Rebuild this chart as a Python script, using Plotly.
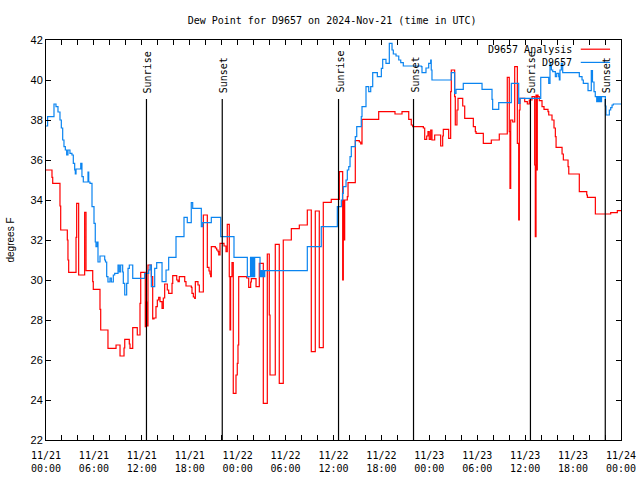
import pandas as pd
import plotly.graph_objects as go

START = "2024-11-21 00:00"

# Observed dew point (D9657): hours since start, value (step plot)
obs_hours = [0.0, 0.2, 1.0, 1.25, 1.5, 1.75, 1.92, 2.09, 2.25, 2.42, 2.59, 2.75, 3.0, 3.25, 3.42, 3.59,
             3.67, 3.76, 4.35, 4.5, 4.67, 5.26, 5.35, 5.51, 5.76, 6.01, 6.17, 6.26, 6.42, 6.51, 6.76,
             7.35, 7.45, 7.6, 7.76, 8.01, 8.18, 8.43, 8.6, 9.02, 9.18, 9.35, 9.6, 9.68, 9.86, 10.1,
             10.27, 10.43, 10.86, 12.36, 12.86, 13.02, 13.19, 13.61, 13.86, 14.53, 15.03, 15.36,
             16.28, 17.28, 17.69, 18.19, 18.37, 19.45, 19.62, 20.7, 21.88, 23.54, 25.21, 25.61,
             25.73, 25.86, 25.98, 26.13, 26.8, 26.92, 27.05, 27.17, 27.3, 27.39, 32.72, 34.47,
             36.48, 36.98, 37.13, 37.23, 37.57, 37.73, 37.91, 38.07, 38.23, 38.73, 38.91, 39.48,
             39.57, 40.07, 40.41, 40.66, 40.91, 41.49, 41.99, 42.16, 42.57, 42.99, 43.33, 43.49,
             43.83, 44.17, 44.42, 44.74, 46.99, 47.08, 47.58, 47.92, 48.17, 48.24, 48.33, 50.75,
             51.17, 51.34, 52.25, 54.6, 55.85, 55.93, 56.69, 58.27, 59.19, 59.35, 61.95, 62.95,
             63.11, 63.2, 63.28, 63.45, 63.78, 63.95, 64.2, 64.28, 64.36, 64.53, 64.7, 66.78,
             67.12, 67.28, 67.87, 68.28, 68.43, 68.62, 68.78, 68.96, 69.06, 69.18, 69.31, 69.43,
             69.56, 70.04, 70.12, 70.54, 70.71, 70.88, 71.04, 72.0]
obs_vals = [37.7, 38.17, 38.8, 38.67, 38.4, 38.0, 37.6, 37.0, 36.67, 36.5, 36.25, 36.5, 36.33, 36.25,
            35.83, 35.5, 35.3, 35.55, 35.83, 35.17, 34.9, 35.4, 34.9, 34.83, 33.67, 32.83, 31.9,
            31.67, 31.9, 30.9, 31.2, 31.0, 30.9, 30.17, 29.9, 30.1, 29.9, 30.25, 30.33, 30.75, 30.4,
            30.75, 30.4, 29.83, 29.25, 29.83, 30.58, 30.75, 30.08, 30.33, 30.5, 30.75, 29.67, 30.58,
            30.87, 29.92, 30.5, 31.13, 32.17, 33.13, 32.87, 33.87, 33.58, 32.67, 32.87, 33.13, 32.17,
            31.13, 30.17, 31.13, 30.17, 31.13, 30.17, 31.13, 30.17, 30.47, 30.17, 30.47, 30.17,
            30.47, 31.67, 32.67, 33.67, 34.0, 34.33, 34.67, 35.0, 35.5, 35.67, 36.17, 36.67, 37.17,
            37.67, 38.17, 38.67, 39.67, 39.42, 39.67, 40.37, 40.17, 40.58, 41.03, 40.83, 41.83,
            41.5, 41.3, 41.2, 41.0, 40.87, 40.7, 40.67, 40.37, 40.6, 40.83, 41.0, 40.5, 40.0, 40.37,
            39.33, 39.53, 39.83, 39.53, 39.03, 38.53, 38.87, 39.83, 38.83, 39.08, 40.13, 39.83,
            40.83, 40.67, 40.5, 40.42, 40.17, 40.33, 40.17, 40.0, 40.5, 40.83, 40.37, 40.17, 40.0,
            39.83, 39.47, 40.47, 39.9, 39.42, 39.17, 38.92, 39.17, 38.92, 39.17, 38.92, 39.17,
            38.7, 38.25, 38.5, 38.62, 38.75, 38.8, 38.8]

# Analysis dew point (D9657 Analysis)
ana_hours = [0.0, 0.75, 0.84, 1.75, 1.84, 2.67, 2.75, 2.84, 3.76, 3.84, 4.09, 4.84, 5.01, 5.85, 5.92,
             6.76, 6.85, 7.76, 8.77, 9.27, 9.77, 9.86, 10.43, 10.52, 10.86, 11.43, 11.77, 11.86,
             12.43, 12.52, 12.61, 12.77, 13.19, 13.36, 13.52, 13.77, 13.94, 14.11, 14.28, 14.53,
             14.69, 14.86, 15.19, 15.36, 15.78, 15.87, 16.37, 16.53, 16.69, 17.37, 17.53, 18.2,
             18.28, 18.45, 18.62, 18.7, 19.03, 19.2, 19.7, 20.2, 20.41, 20.53, 20.62, 20.7, 21.2,
             21.37, 21.54, 21.63, 21.79, 22.29, 22.54, 22.7, 22.95, 23.04, 23.12, 23.29, 23.45,
             23.79, 23.95, 24.04, 24.13, 25.13, 25.38, 25.63, 25.71, 26.3, 26.71, 27.21, 27.71,
             27.96, 28.05, 28.71, 29.21, 29.71, 30.72, 31.72, 32.72, 33.22, 33.72, 34.22, 34.72,
             35.72, 36.73, 37.15, 37.23, 37.32, 37.4, 37.73, 37.82, 38.73, 39.23, 39.41, 39.57,
             41.66, 43.7, 44.58, 45.42, 45.74, 45.92, 47.25, 47.42, 47.67, 47.83, 47.99, 48.17,
             48.33, 48.67, 49.42, 49.67, 49.75, 50.42, 50.67, 50.75, 51.17, 51.25, 51.46, 51.59,
             52.18, 52.43, 53.51, 53.76, 53.85, 54.76, 55.76, 56.76, 57.76, 58.01, 58.1, 58.19,
             58.44, 58.69, 59.02, 59.19, 59.27, 59.35, 59.94, 60.27, 60.52, 60.86, 61.19, 61.27,
             61.36, 61.44, 61.52, 61.61, 61.77, 62.11, 62.36, 62.86, 62.95, 63.36, 63.61, 63.78,
             63.87, 64.62, 64.78, 65.37, 65.46, 66.78, 67.71, 67.79, 68.79, 70.71, 71.54, 72.0]
ana_vals = [35.5, 35.13, 34.83, 33.7, 32.5, 32.0, 31.0, 30.38, 32.13, 33.83, 30.25, 33.38, 30.47,
            29.92, 29.53, 28.53, 27.5, 26.58, 26.75, 26.2, 26.6, 27.03, 26.8, 26.58, 27.62, 27.25,
            28.83, 30.38, 27.67, 28.9, 27.7, 30.75, 30.17, 28.05, 28.1, 28.67, 29.0, 29.13, 28.92,
            28.58, 29.1, 29.8, 29.5, 29.33, 29.83, 30.22, 30.0, 29.92, 30.17, 29.92, 29.7, 29.63,
            29.33, 29.15, 29.08, 29.92, 29.75, 29.4, 33.25, 30.63, 30.45, 30.3, 30.17, 31.67, 31.6,
            31.5, 31.42, 31.25, 31.83, 31.7, 31.42, 32.78, 30.17, 27.5, 30.17, 30.87, 24.33, 25.25,
            25.83, 26.75, 30.17, 30.1, 29.63, 29.9, 30.07, 29.67, 30.83, 23.83, 31.3, 28.25, 25.25,
            31.78, 24.83, 32.0, 32.57, 32.75, 33.5, 26.42, 33.45, 26.62, 33.88, 34.03, 35.42, 30.0,
            34.0, 32.0, 34.0, 34.17, 34.87, 36.97, 36.9, 36.8, 38.03, 38.42, 38.3, 38.42, 38.03,
            37.75, 37.67, 37.6, 37.03, 37.2, 37.42, 37.03, 37.5, 37.0, 37.25, 36.7, 37.2, 37.53,
            37.08, 39.42, 40.5, 39.17, 37.75, 38.5, 39.08, 38.7, 38.08, 37.67, 37.42, 37.33, 36.83,
            37.0, 37.3, 40.13, 37.42, 34.58, 38.0, 37.9, 40.67, 36.83, 33.0, 38.5, 39.08, 38.92,
            38.8, 39.0, 39.17, 35.75, 32.17, 39.25, 35.5, 39.25, 39.17, 38.97, 38.67, 38.53, 38.42,
            38.25, 38.0, 37.6, 37.17, 36.63, 36.3, 36.0, 35.67, 35.3, 34.42, 34.25, 34.13, 33.3,
            33.37, 33.47, 33.47]

sun_hours = [12.58, 22.07, 36.63, 46.02, 60.66, 70.03]
sun_labels = ["Sunrise", "Sunset", "Sunrise", "Sunset", "Sunrise", "Sunset"]

series_names = ["D9657 Analysis", "D9657"]
series_colors = ["#ff0000", "#0a84f0"]

base = pd.Timestamp(START)


def to_time(hours):
    return [base + pd.Timedelta(hours=h) for h in hours]


MONO = "DejaVu Sans Mono"

fig = go.Figure()
fig.add_trace(go.Scatter(x=to_time(ana_hours), y=ana_vals, mode="lines", line_shape="hv",
                         line=dict(color=series_colors[0], width=1.2), name=series_names[0],
                         showlegend=False))
fig.add_trace(go.Scatter(x=to_time(obs_hours), y=obs_vals, mode="lines", line_shape="hv",
                         line=dict(color=series_colors[1], width=1.2), name=series_names[1],
                         showlegend=False))

shapes = []
annotations = []
for h, lab in zip(sun_hours, sun_labels):
    t = base + pd.Timedelta(hours=h)
    shapes.append(dict(type="line", xref="x", yref="y", x0=t, x1=t, y0=22, y1=39.05,
                       line=dict(color="black", width=1.2)))
    annotations.append(dict(x=t, y=39.25, xref="x", yref="y", text=lab, textangle=-90,
                            showarrow=False, xanchor="center", yanchor="bottom", xshift=1,
                            font=dict(family=MONO, size=10, color="black")))

# key (text left, sample line right, gnuplot style)
key_y = [0.977, 0.944]
for name, col, ky in zip(series_names, series_colors, key_y):
    annotations.append(dict(x=0.918, y=ky, xref="paper", yref="paper", text=name,
                            showarrow=False, xanchor="right", yanchor="middle",
                            font=dict(family=MONO, size=10, color="black")))
    shapes.append(dict(type="line", xref="paper", yref="paper", x0=0.930, x1=0.981,
                       y0=ky, y1=ky, line=dict(color=col, width=1.2)))

fig.update_layout(
    width=640, height=480,
    margin=dict(l=46, r=19, t=40, b=40, autoexpand=False),
    paper_bgcolor="white", plot_bgcolor="white",
    title=dict(text="Dew Point for D9657 on 2024-Nov-21 (time in UTC)",
               x=0.519, xanchor="center", y=0.958, yanchor="middle", yref="container",
               font=dict(family=MONO, size=10, color="black")),
    shapes=shapes, annotations=annotations,
    showlegend=False,
)
fig.update_xaxes(
    range=[base, base + pd.Timedelta(hours=72)], automargin=False,
    tickformat="%m/%d<br>%H:%M", dtick=6 * 3600 * 1000, tick0=base,
    ticks="inside", ticklen=5, tickcolor="black", showgrid=False, zeroline=False,
    showline=True, linecolor="black", linewidth=1, mirror="ticks", ticklabelstandoff=6,
    minor=dict(dtick=2 * 3600 * 1000, ticks="inside", ticklen=5, tickcolor="black", showgrid=False),
    tickfont=dict(family=MONO, size=10, color="black"),
)
fig.update_yaxes(
    range=[22, 42], dtick=2, tick0=22, automargin=False,
    ticks="inside", ticklen=5, tickcolor="black", showgrid=False, zeroline=False,
    showline=True, linecolor="black", linewidth=1, mirror="ticks",
    tickfont=dict(family="Liberation Sans", size=11, color="black"),
    title=dict(text="degrees F", font=dict(family="Liberation Sans", size=10, color="black"),
               standoff=14),
)

fig.write_html("out.html", config={"displayModeBar": False},
               post_script="document.body.style.margin='0';")
